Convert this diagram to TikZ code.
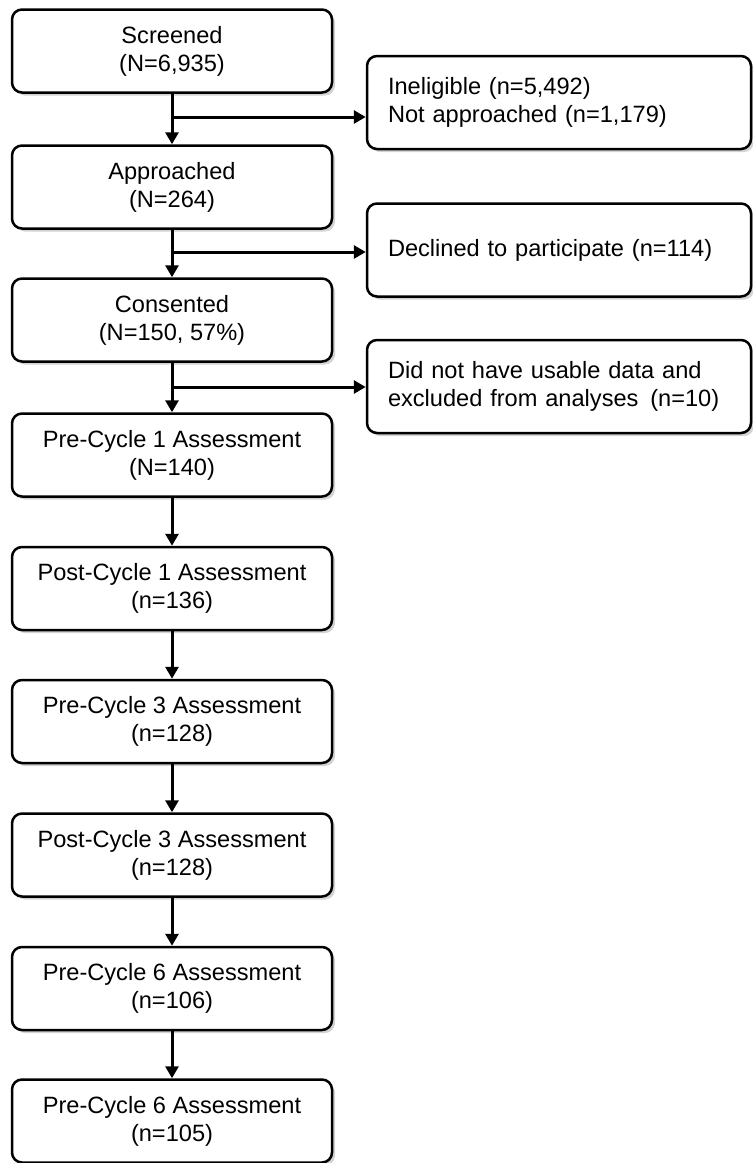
\documentclass[tikz,border=0pt]{standalone}
\usepackage{fontspec}
\setmainfont{Liberation Sans}
\usetikzlibrary{arrows.meta,shadows}
\begin{document}
\begin{tikzpicture}[x=0.5pt,y=-0.5pt]
    \useasboundingbox (0,0) rectangle (752,1163);
    \tikzstyle{stagebox} = [draw,line width=1.25pt,rounded corners=5pt,fill=white,
        drop shadow={shadow xshift=1.5pt,shadow yshift=-1.5pt,opacity=0.35},
        minimum width=160pt,minimum height=41.5pt,align=center,
        font=\fontsize{11.8}{14}\selectfont]
    \tikzstyle{exitbox} = [stagebox,minimum width=192pt,minimum height=46.5pt,
        text width=171pt,inner xsep=10.5pt,align=left]
    \tikzstyle{flowarrow} = [line width=1.5pt,-{Triangle[length=6pt,width=6.5pt]}]
    % main column
    \node[stagebox] (screened)   at (172,51)     {Screened\\(N=6,935)};
    \node[stagebox] (approached) at (172,187)    {Approached\\(N=264)};
    \node[stagebox] (consented)  at (172,320)    {Consented\\(N=150, 57\%)};
    \node[stagebox] (preone)     at (172,455)    {Pre-Cycle 1 Assessment\\(N=140)};
    \node[stagebox] (postone)    at (172,588.5)  {Post-Cycle 1 Assessment\\(n=136)};
    \node[stagebox] (prethree)   at (172,721.5)  {Pre-Cycle 3 Assessment\\(n=128)};
    \node[stagebox] (postthree)  at (172,855)    {Post-Cycle 3 Assessment\\(n=128)};
    \node[stagebox] (presix)     at (172,988.5)  {Pre-Cycle 6 Assessment\\(n=106)};
    \node[stagebox] (presixb)    at (172,1121)   {Pre-Cycle 6 Assessment\\(n=105)};
    % exclusions
    \node[exitbox] (ineligible) at (559,102.5) {Ineligible (n=5,492)\\Not approached (n=1,179)};
    \node[exitbox] (declined)   at (559,250)   {Declined to participate (n=114)};
    \node[exitbox] (nodata)     at (559,386.5) {Did not have usable data and\\excluded from analyses\enspace(n=10)};
    \coordinate (splitone)   at (172,117);
    \coordinate (splittwo)   at (172,252);
    \coordinate (splitthree) at (172,387);
    \draw[flowarrow] (screened.south) -- (approached.north);
    \draw[flowarrow] (approached.south) -- (consented.north);
    \draw[flowarrow] (consented.south) -- (preone.north);
    \draw[flowarrow] (preone.south) -- (postone.north);
    \draw[flowarrow] (postone.south) -- (prethree.north);
    \draw[flowarrow] (prethree.south) -- (postthree.north);
    \draw[flowarrow] (postthree.south) -- (presix.north);
    \draw[flowarrow] (presix.south) -- (presixb.north);
    \draw[flowarrow] (splitone) -- (splitone -| ineligible.west);
    \draw[flowarrow] (splittwo) -- (splittwo -| declined.west);
    \draw[flowarrow] (splitthree) -- (splitthree -| nodata.west);
\end{tikzpicture}
\end{document}
